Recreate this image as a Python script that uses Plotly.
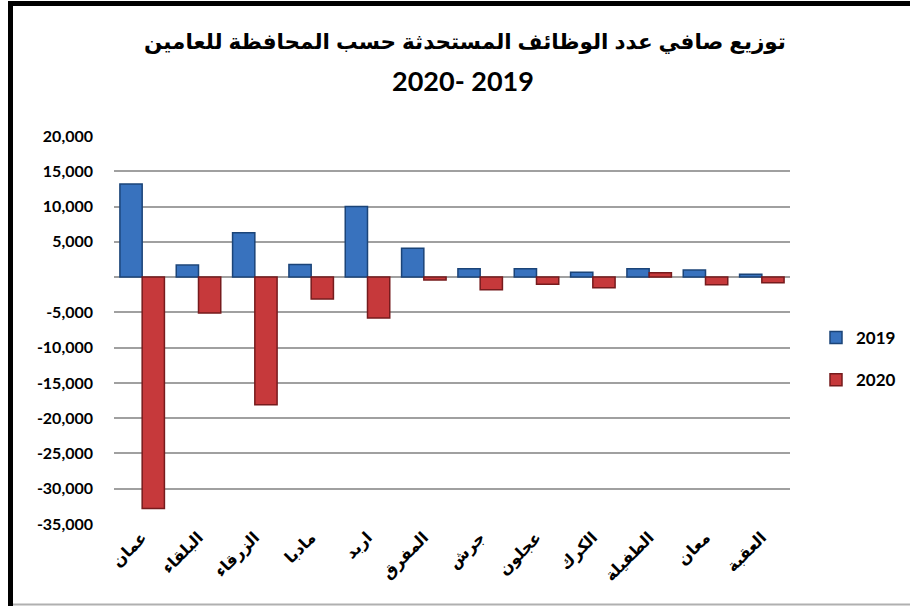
import plotly.graph_objects as go

categories = ["عمان", "البلقاء", "الزرقاء", "مادبا", "اربد", "المفرق",
              "جرش", "عجلون", "الكرك", "الطفيلة", "معان", "العقبة"]
values_2019 = [13200, 1700, 6300, 1800, 10000, 4100, 1200, 1200, 700, 1200, 1000, 400]
values_2020 = [-32800, -5100, -18100, -3100, -5800, -400, -1800, -1000, -1500, 600, -1100, -800]
series_names = ["2019", "2020"]
tick_vals = [20000, 15000, 10000, 5000, 0, -5000, -10000, -15000, -20000, -25000, -30000, -35000]
tick_text = ["20,000", "15,000", "10,000", "5,000", "", "-5,000", "-10,000", "-15,000",
             "-20,000", "-25,000", "-30,000", "-35,000"]
title_lines = ["توزيع صافي عدد الوظائف المستحدثة حسب المحافظة للعامين", "2020- 2019"]

L, R, T, B = 114, 120, 136, 82
W, H = 910, 606
pw, ph = W - L - R, H - T - B

def px_x(p):
    return (p - L) / pw

def px_y(p):
    return (H - B - p) / ph

fig = go.Figure()
fig.add_trace(go.Bar(
    x=categories, y=values_2019, name=series_names[0], legendgroup="a",
    marker=dict(color="#3872BE", line=dict(color="#1B4478", width=1.5)),
))
fig.add_trace(go.Bar(
    x=categories, y=values_2020, name=series_names[1], legendgroup="b",
    marker=dict(color="#C6393B", line=dict(color="#761B1D", width=1.5)),
))

fig.update_layout(
    width=W, height=H,
    margin=dict(l=L, r=R, t=T, b=B, autoexpand=False),
    paper_bgcolor="white", plot_bgcolor="white",
    barmode="group", bargap=0.21, bargroupgap=0.0,
    font=dict(family="Lato, 'DejaVu Sans', sans-serif", color="black"),
    annotations=[
        dict(text="<b>" + title_lines[0] + "</b>", xref="paper", yref="paper",
             x=px_x(465), y=px_y(42), xanchor="center", yanchor="middle", showarrow=False,
             font=dict(family="'Liberation Sans', 'DejaVu Sans', Arial, sans-serif", size=21.5, color="black")),
        dict(text="<b>" + title_lines[1] + "</b>", xref="paper", yref="paper",
             x=px_x(463), y=px_y(80), xanchor="center", yanchor="middle", showarrow=False,
             font=dict(family="Lato, sans-serif", size=27, color="black")),
    ],
    legend=dict(
        x=px_x(816), xanchor="left", y=px_y(320), yanchor="top",
        font=dict(family="Lato, sans-serif", size=17, color="black", weight="bold"),
        tracegroupgap=17, bgcolor="rgba(0,0,0,0)", itemwidth=30,
    ),
    showlegend=True,
    shapes=[
        dict(type="rect", xref="paper", yref="paper",
             x0=px_x(10.5), x1=px_x(930), y0=px_y(3.5), y1=px_y(640),
             line=dict(color="black", width=5), layer="above"),
        dict(type="line", xref="paper", yref="paper",
             x0=px_x(13), x1=px_x(910), y0=px_y(604.5), y1=px_y(604.5),
             line=dict(color="#B0B0B0", width=2)),
    ],
)
fig.update_yaxes(
    range=[-35000, 20000], tickvals=tick_vals, ticktext=tick_text,
    showgrid=True, gridcolor="#A0A0A0", gridwidth=2,
    zeroline=True, zerolinecolor="#A0A0A0", zerolinewidth=2,
    showline=False, ticks="", ticklabelstandoff=20,
    tickfont=dict(family="Lato, sans-serif", size=16, color="black", weight="bold"),
)
fig.update_xaxes(
    tickangle=-45, showgrid=False, showline=False, ticks="",
    tickfont=dict(family="'Liberation Sans', 'DejaVu Sans', Arial, sans-serif", size=16, color="black", weight="bold"),
)

fig.write_html("out.html", config={"displayModeBar": False},
               post_script="document.body.style.margin='0';document.body.style.padding='0';")
